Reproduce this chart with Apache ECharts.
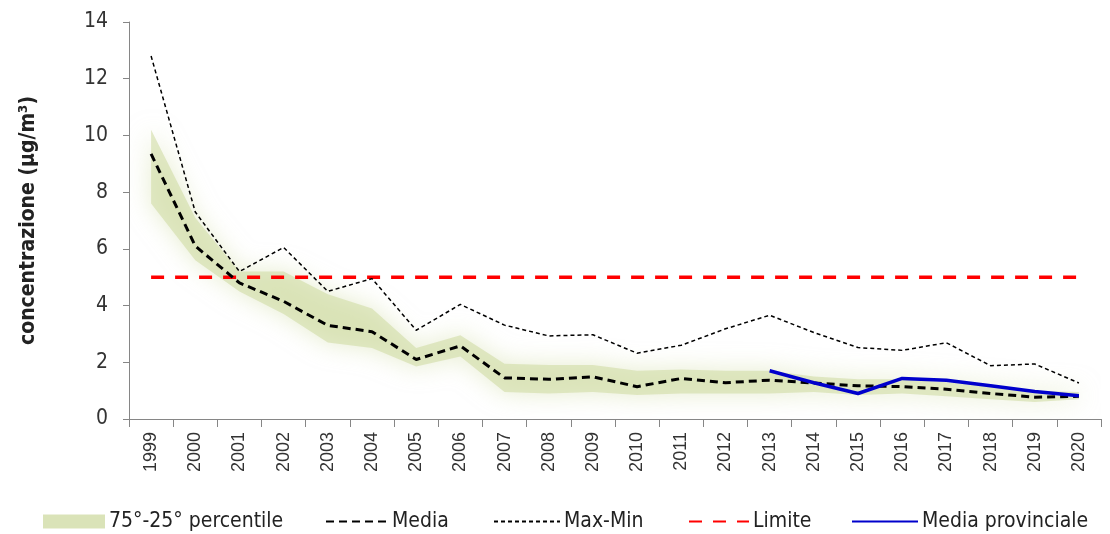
<!DOCTYPE html>
<html>
<head>
<meta charset="utf-8">
<script src="https://cdn.jsdelivr.net/npm/echarts@6/dist/echarts.min.js"></script>
<style>
html,body{margin:0;padding:0;background:#fff;}
#chart{width:1110px;height:534px;}
</style>
</head>
<body>
<div id="chart"></div>
<script>
// ---- data ----
var years = ['1999','2000','2001','2002','2003','2004','2005','2006','2007','2008','2009','2010','2011','2012','2013','2014','2015','2016','2017','2018','2019','2020'];
var media = [9.35, 6.1, 4.8, 4.15, 3.3, 3.08, 2.1, 2.58, 1.45, 1.4, 1.49, 1.14, 1.43, 1.28, 1.37, 1.27, 1.17, 1.14, 1.05, 0.9, 0.77, 0.8];
var maxMin = [12.8, 7.3, 5.2, 6.05, 4.5, 4.95, 3.13, 4.04, 3.31, 2.93, 2.97, 2.32, 2.6, 3.18, 3.66, 3.05, 2.52, 2.42, 2.69, 1.88, 1.94, 1.27];
var limite = [5,5,5,5,5,5,5,5,5,5,5,5,5,5,5,5,5,5,5,5,5,5];
var mediaProvinciale = [null,null,null,null,null,null,null,null,null,null,null,null,null,null, 1.7, 1.28, 0.9, 1.43, 1.37, 1.17, 0.97, 0.82];
var p75 = [10.2, 7.1, 5.2, 5.2, 4.4, 3.9, 2.5, 2.95, 1.95, 1.9, 1.9, 1.7, 1.75, 1.7, 1.7, 1.5, 1.4, 1.4, 1.3, 1.15, 1.0, 0.95];
var p25 = [7.6, 5.6, 4.5, 3.7, 2.7, 2.5, 1.85, 2.2, 0.95, 0.9, 0.95, 0.85, 0.9, 0.9, 0.9, 0.95, 0.85, 0.9, 0.8, 0.7, 0.6, 0.7];
var yTicks = {min: 0, max: 14, interval: 2};

var bandDiff = p75.map(function (v, i) { return +(v - p25[i]).toFixed(3); });

var narrow = "'Liberation Sans Narrow', 'DejaVu Sans Condensed', 'Liberation Sans', sans-serif";
var bandColor = 'rgba(208,220,165,0.6)';

function legendItem(left, name, w, extra) {
  var d = {name: name};
  if (extra) { for (var k in extra) d[k] = extra[k]; }
  return {
    show: true, left: left, top: 506, itemWidth: w, itemHeight: 14, itemGap: 4,
    textStyle: {fontFamily: narrow, fontSize: 21, color: '#222', padding: [0, 0, 0, -1]},
    itemStyle: {opacity: 0},
    data: [d], selectedMode: false
  };
}

var chart = echarts.init(document.getElementById('chart'));
chart.setOption({
  animation: false,
  backgroundColor: '#fff',
  grid: {left: 129, right: 9, top: 22, bottom: 115, containLabel: false},
  legend: [
    legendItem(38, '75°-25° percentile', 62, {icon: 'rect', itemStyle: {color: 'rgba(214,224,176,0.9)', opacity: 1}}),
    legendItem(320, 'Media', 62),
    legendItem(488, 'Max-Min', 66),
    legendItem(683, 'Limite', 60),
    legendItem(846, 'Media provinciale', 66)
  ],
  xAxis: {
    type: 'category',
    data: years,
    boundaryGap: true,
    axisLine: {lineStyle: {color: '#868686', width: 1}},
    axisTick: {show: true, length: 8, lineStyle: {color: '#868686'}},
    axisLabel: {rotate: 90, fontSize: 18, color: '#333', fontFamily: "'Liberation Sans', Arial, sans-serif", margin: 13, interval: 0}
  },
  yAxis: {
    type: 'value',
    min: yTicks.min, max: yTicks.max, interval: yTicks.interval,
    name: 'concentrazione (µg/m³)',
    nameLocation: 'middle',
    nameRotate: 90,
    nameGap: 90,
    nameTextStyle: {fontFamily: narrow, fontSize: 21, fontWeight: 'bold', color: '#222'},
    axisLine: {show: true, lineStyle: {color: '#868686', width: 1}},
    axisTick: {show: true, length: 6, lineStyle: {color: '#868686'}},
    splitLine: {show: false},
    axisLabel: {fontSize: 21, color: '#333', fontFamily: narrow, margin: 21}
  },
  series: [
    {
      name: 'p25', type: 'line', data: p25, stack: 'band', symbol: 'none',
      lineStyle: {opacity: 0}, silent: true, z: 1
    },
    {
      name: '75°-25° percentile', type: 'line', data: bandDiff, stack: 'band', symbol: 'none',
      lineStyle: {opacity: 0, width: 0},
      areaStyle: {color: bandColor, shadowBlur: 24, shadowColor: 'rgba(208,220,165,0.9)', opacity: 1},
      itemStyle: {color: 'rgba(214,224,176,0.9)'},
      silent: true, z: 1
    },
    {
      name: 'Limite', type: 'line', data: limite, symbol: 'none',
      lineStyle: {color: '#ff0000', width: 3.5, type: [13, 11]},
      itemStyle: {color: '#ff0000'}, z: 3
    },
    {
      name: 'Media', type: 'line', data: media, symbol: 'none',
      lineStyle: {color: '#000', width: 3, type: [8, 5]},
      itemStyle: {color: '#000'}, z: 4
    },
    {
      name: 'Max-Min', type: 'line', data: maxMin, symbol: 'none',
      lineStyle: {color: '#000', width: 1.5, type: [4, 3]},
      itemStyle: {color: '#000'}, z: 4
    },
    {
      name: 'Media provinciale', type: 'line', data: mediaProvinciale, symbol: 'none',
      lineStyle: {color: '#0000cc', width: 3.5},
      itemStyle: {color: '#0000cc'}, z: 5
    }
  ]
});
</script>
</body>
</html>
